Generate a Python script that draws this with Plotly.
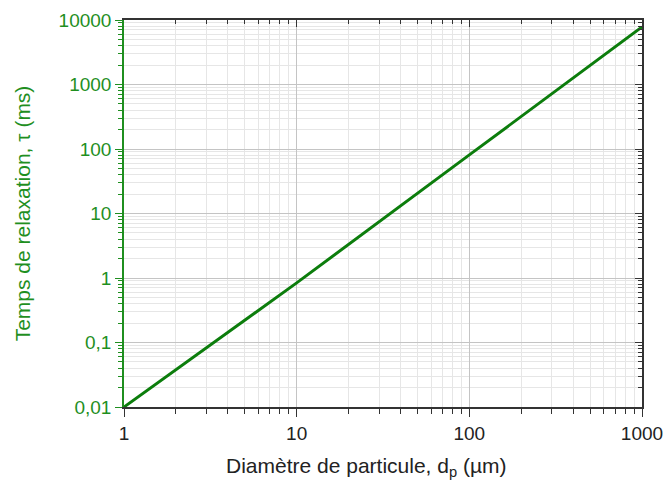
import plotly.graph_objects as go

# particle diameter (um) and relaxation time (ms)
diametre = [1, 10, 100, 1000]
tau = [0.01, 0.84, 81, 7800]

xticks = [1, 10, 100, 1000]
xlabels = ["1", "10", "100", "1000"]
yticks = [0.01, 0.1, 1, 10, 100, 1000, 10000]
ylabels = ["0,01", "0,1", "1", "10", "100", "1000", "10000"]

# 2..9 within each decade
xminor = [k * 10 ** e for e in range(0, 3) for k in range(2, 10)]
yminor = [k * 10.0 ** e for e in range(-2, 4) for k in range(2, 10)]

vert = "#1f8f1f"
ligne = "#0c7d0c"
police = "Liberation Sans, Arial, sans-serif"

fig = go.Figure()
fig.add_trace(go.Scatter(x=diametre, y=tau, mode="lines",
                         line=dict(color=ligne, width=3), showlegend=False))
# invisible copy so the top/right axes get drawn
fig.add_trace(go.Scatter(x=diametre, y=tau, mode="lines", xaxis="x2", yaxis="y2",
                         line=dict(color="rgba(0,0,0,0)", width=0),
                         hoverinfo="skip", showlegend=False))

fig.update_layout(
    width=665, height=483,
    margin=dict(l=124, r=23, t=20, b=76),
    paper_bgcolor="white", plot_bgcolor="white",
    font=dict(family=police, size=19, color="#222"),
    xaxis=dict(
        type="log", range=[0, 3], automargin=False,
        tickvals=xticks, ticktext=xlabels,
        ticks="outside", ticklen=8, tickwidth=1, tickcolor="#333",
        showline=True, linecolor="#333", linewidth=1.5,
        showgrid=True, gridcolor="#c4c4c4", gridwidth=1,
        minor=dict(tickvals=xminor, ticks="outside", ticklen=5, tickcolor="#333",
                   showgrid=True, gridcolor="#e6e6e6"),
        zeroline=False,
    ),
    yaxis=dict(
        type="log", range=[-2, 4], automargin=False,
        tickvals=yticks, ticktext=ylabels,
        ticks="outside", ticklen=7, tickwidth=1, tickcolor=vert,
        tickfont=dict(color=vert, size=19),
        showline=True, linecolor=vert, linewidth=1.5,
        showgrid=True, gridcolor="#c4c4c4", gridwidth=1,
        minor=dict(tickvals=yminor, ticks="outside", ticklen=4, tickcolor=vert,
                   showgrid=True, gridcolor="#e6e6e6"),
        title=dict(text="Temps de relaxation, τ (ms)",
                   font=dict(size=21, color=vert), standoff=22),
        zeroline=False,
    ),
    xaxis2=dict(
        type="log", range=[0, 3], overlaying="x", side="top", automargin=False,
        tickvals=xticks, showticklabels=False,
        ticks="inside", ticklen=7, tickcolor="#333",
        minor=dict(tickvals=xminor, ticks="inside", ticklen=4, tickcolor="#333"),
        showline=True, linecolor="#333", linewidth=1.5,
        showgrid=False, zeroline=False,
    ),
    yaxis2=dict(
        type="log", range=[-2, 4], overlaying="y", side="right", automargin=False,
        tickvals=yticks, showticklabels=False,
        ticks="inside", ticklen=7, tickcolor="#333",
        minor=dict(tickvals=yminor, ticks="inside", ticklen=4, tickcolor="#333"),
        showline=True, linecolor="#333", linewidth=1.5,
        showgrid=False, zeroline=False,
    ),
)

# x title as annotation: in the original it sits a little left of centre
fig.add_annotation(text="Diamètre de particule, d<sub>p</sub> (µm)",
                   xref="paper", yref="paper", x=0.469, y=-0.155,
                   xanchor="center", yanchor="middle", showarrow=False,
                   font=dict(size=21, color="#222"))

# drop the page's default body margin so the figure sits at (0, 0)
fig.write_html("out.html", config={"displayModeBar": False},
               post_script="document.body.style.margin='0';")
